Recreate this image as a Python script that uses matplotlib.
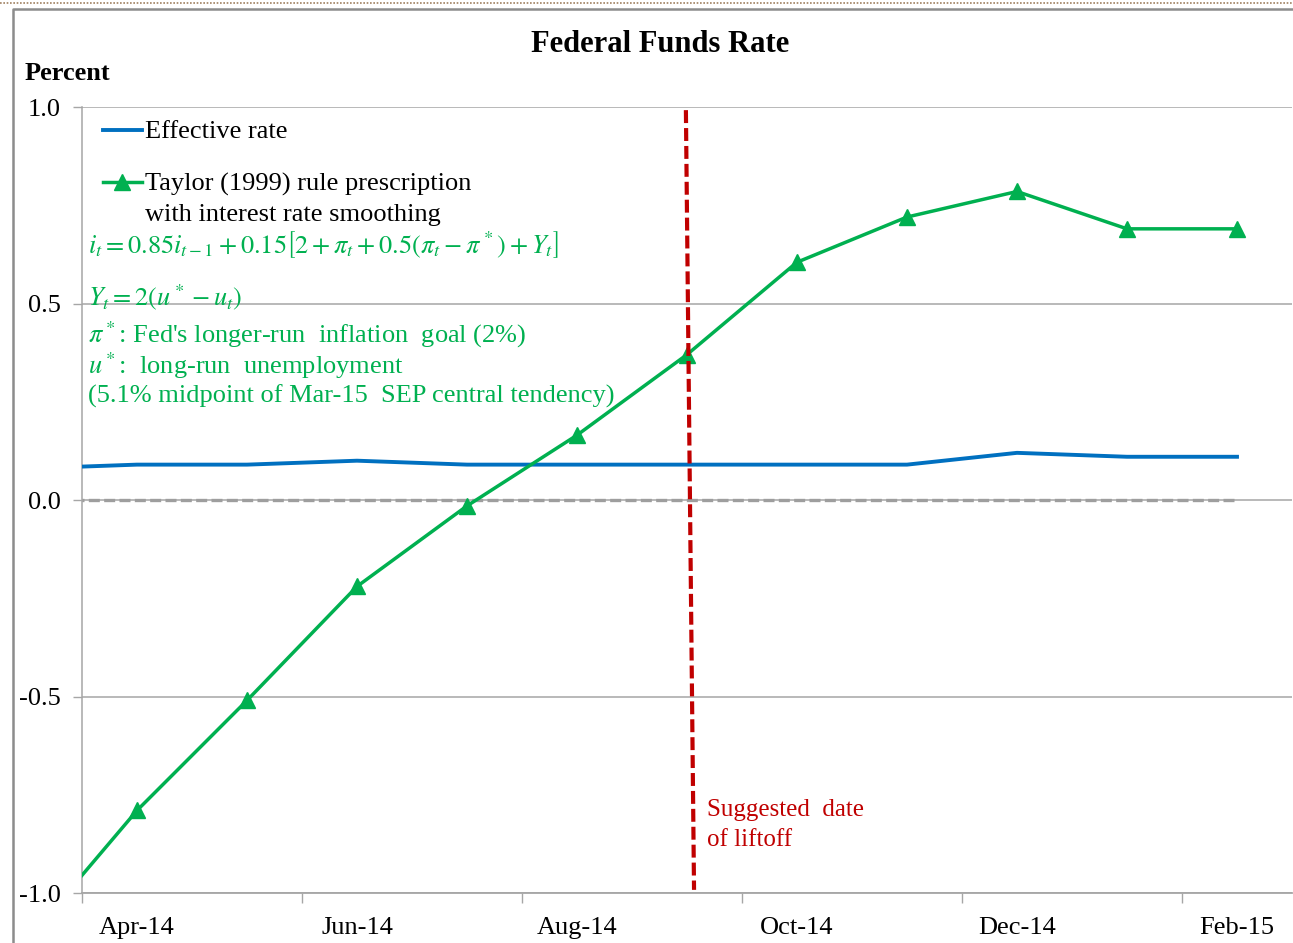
import matplotlib
matplotlib.use("Agg")
import matplotlib.pyplot as plt
from matplotlib.lines import Line2D
import numpy as np

# ---------------- data ----------------
months = ['Mar-14', 'Apr-14', 'May-14', 'Jun-14', 'Jul-14', 'Aug-14', 'Sep-14',
          'Oct-14', 'Nov-14', 'Dec-14', 'Jan-15', 'Feb-15']
effective_rate = [0.08, 0.09, 0.09, 0.10, 0.09, 0.09, 0.09, 0.09, 0.09, 0.12, 0.11, 0.11]
taylor_rule = [-1.12, -0.79, -0.51, -0.22, -0.015, 0.165, 0.37, 0.605, 0.72, 0.785, 0.69, 0.69]
zero_line = [0.0] * len(months)
tick_labels = ['Apr-14', 'Jun-14', 'Aug-14', 'Oct-14', 'Dec-14', 'Feb-15']
y_ticks = [-1.0, -0.5, 0.0, 0.5, 1.0]
series_labels = ['Effective rate', 'Taylor (1999) rule prescription\nwith interest rate smoothing']

# ---------------- style ----------------
W, H = 1293, 943
plt.rcParams['font.family'] = ['Liberation Serif', 'DejaVu Serif']
plt.rcParams['mathtext.fontset'] = 'stix'

BLUE = '#0070C0'
GREEN = '#00B050'
RED = '#C00000'
GRID = '#A6A6A6'
FS = 19

fig = plt.figure(figsize=(W / 100, H / 100), dpi=100)

def fx(x):
    return x / W

def fy(y):
    return 1 - y / H

ax = fig.add_axes([fx(82), fy(893), fx(1292) - fx(82), fy(107) - fy(893)])

x = np.arange(len(months))
ax.plot(x, zero_line, color='#9E9E9E', lw=2.4, ls=(0, (3.3, 1.3)), zorder=2)
ax.plot(x, effective_rate, color=BLUE, lw=2.8, zorder=3, solid_joinstyle='round')
ax.plot(x, taylor_rule, color=GREEN, lw=2.5, marker='^', ms=11, zorder=4)

ax.set_xlim(0.5, 11.5)
ax.set_ylim(-1.0, 1.0)

# ticks
label_idx = [months.index(m) for m in tick_labels]
ax.set_xticks(label_idx)
ax.set_xticklabels(tick_labels, fontsize=FS)
ax.set_xticks(np.arange(0.5, 11.6, 2), minor=True)
ax.tick_params(axis='x', which='major', length=0, pad=17)
ax.tick_params(axis='x', which='minor', length=7, color=GRID, width=1)
ax.set_yticks(y_ticks)
ax.set_yticklabels(['%.1f' % v for v in y_ticks], fontsize=FS)
ax.tick_params(axis='y', length=6.5, color=GRID, width=1, pad=9)

ax.grid(axis='y', color=GRID, lw=1.1)
ax.set_axisbelow(True)
for s in ['top', 'right']:
    ax.spines[s].set_visible(False)
ax.spines['left'].set_color(GRID)
ax.spines['bottom'].set_color(GRID)
ax.spines['left'].set_linewidth(1.1)
ax.spines['bottom'].set_linewidth(1.3)

# suggested liftoff line (annotation)
ax.plot([5.99, 6.064], [0.992, -0.992], color=RED, lw=3, ls=(0, (3.1, 1.2)), clip_on=False, zorder=5)
fig.text(fx(707), fy(810), 'Suggested  date', color=RED, fontsize=18, va='center', ha='left')
fig.text(fx(707), fy(840), 'of liftoff', color=RED, fontsize=18, va='center', ha='left')

# ---------------- legend (manual) ----------------
fig.add_artist(Line2D([fx(103), fx(142)], [fy(130), fy(130)], color=BLUE, lw=2.8))
fig.text(fx(145), fy(132), series_labels[0], fontsize=FS, va='center', ha='left')
fig.add_artist(Line2D([fx(103), fx(142)], [fy(182), fy(182)], color=GREEN, lw=2.5))
fig.add_artist(Line2D([fx(122.5)], [fy(182)], color=GREEN, marker='^', ms=11, lw=0))
line1, line2 = series_labels[1].split('\n')
fig.text(fx(145), fy(184), line1, fontsize=FS, va='center', ha='left')
fig.text(fx(145), fy(215), line2, fontsize=FS, va='center', ha='left')

# formula text
fig.text(fx(88), fy(245),
         r'$i_t = 0.85i_{t-1} + 0.15\left[2 + \pi_t + 0.5\left(\pi_t - \pi^*\right) + Y_t\right]$',
         color=GREEN, fontsize=FS, va='center', ha='left')
fig.text(fx(88), fy(297), r'$Y_t = 2\left(u^* - u_t\right)$',
         color=GREEN, fontsize=FS, va='center', ha='left')
fig.text(fx(88), fy(335), r"$\pi^*$: Fed's longer-run  inflation  goal (2%)",
         color=GREEN, fontsize=FS, va='center', ha='left')
fig.text(fx(88), fy(366), r'$u^*$:  long-run  unemployment',
         color=GREEN, fontsize=FS, va='center', ha='left')
fig.text(fx(88), fy(396), '(5.1% midpoint of Mar-15  SEP central tendency)',
         color=GREEN, fontsize=FS, va='center', ha='left')

# ---------------- titles ----------------
fig.text(fx(660), fy(45), 'Federal Funds Rate', fontsize=22, fontweight='bold', ha='center', va='center')
fig.text(fx(25), fy(74), 'Percent', fontsize=FS, fontweight='bold', ha='left', va='center')

# ---------------- chart frame ----------------
fig.add_artist(Line2D([0, 1], [fy(3), fy(3)], color='#A08060', lw=1.2, ls=(0, (1, 1))))
fig.add_artist(Line2D([fx(13), fx(13), 1], [0, fy(9), fy(9)], color='#8C8C8C', lw=1.8))

fig.savefig('out.png', dpi=100)
